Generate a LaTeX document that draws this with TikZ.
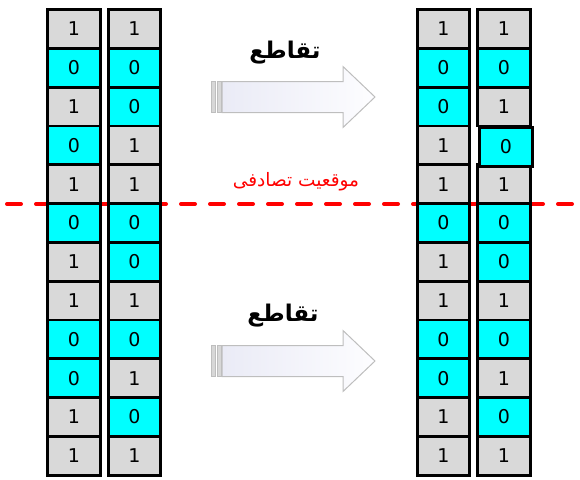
\documentclass[tikz,border=0pt]{standalone}
\usepackage{fontspec}
\setmainfont{DejaVu Sans}
\newfontfamily\arabicfont[Script=Arabic]{DejaVu Sans}
\TeXXeTstate=1
\definecolor{cellgray}{RGB}{217,217,217}
\definecolor{cellcyan}{RGB}{0,255,255}
\definecolor{arrowedge}{RGB}{190,190,190}
\definecolor{arrowfillA}{RGB}{253,253,255}
\definecolor{arrowfillB}{RGB}{234,235,246}
\definecolor{stripefill}{RGB}{215,215,215}
\begin{document}
\begin{tikzpicture}[x=1pt,y=-1pt,
  cell/.style={draw=black, line width=2.8pt, minimum height=38.8pt, inner sep=0pt, font=\fontsize{19}{19}\selectfont},
  c0/.style={cell, fill=cellcyan},
  c1/.style={cell, fill=cellgray},
  fatarrow/.style={draw=arrowedge, line width=1pt, left color=arrowfillB, right color=arrowfillA},
  stripe/.style={draw=arrowedge, line width=0.8pt, fill=stripefill},
  title/.style={font=\arabicfont\bfseries\fontsize{23}{23}\selectfont},
  randtxt/.style={font=\arabicfont\fontsize{18.5}{18.5}\selectfont, text=red}
]
\useasboundingbox (0,0) rectangle (580,479);
% random crossover position
\coordinate (dashL) at (7,204);
\coordinate (dashR) at (580,204);
\draw[red, line width=4pt, line cap=round, dash pattern=on 14pt off 15pt] (dashL) -- (dashR);
\node[randtxt] (pos) at (296,182) {\beginR موقعیت تصادفی\endR};

% columns
\foreach \v [count=\i] in {1,0,1,0,1,0,1,1,0,0,1,1}
  \node[c\v, minimum width=53pt] (a\i) at (74,{9.5+19.4+(\i-1)*38.8}) {\v};
\foreach \v [count=\i] in {1,0,0,1,1,0,0,1,0,1,0,1}
  \node[c\v, minimum width=52pt] (b\i) at (134.5,{9.5+19.4+(\i-1)*38.8}) {\v};
\foreach \v [count=\i] in {1,0,0,1,1,0,1,1,0,0,1,1}
  \node[c\v, minimum width=52pt] (c\i) at (443.5,{9.5+19.4+(\i-1)*38.8}) {\v};
\foreach \v/\i in {1/1,0/2,1/3,1/5,0/6,0/7,1/8,0/9,1/10,0/11,1/12}
  \node[c\v, minimum width=53pt] (d\i) at (504,{9.5+19.4+(\i-1)*38.8}) {\v};
\node[c0, minimum width=53pt] (d4) at (506,{11+19.4+3*38.8}) {0};

% arrows
\foreach \yc in {97,361} {
  \draw[fatarrow] (222,\yc-15.5) -- (343,\yc-15.5) -- (343,\yc-30.5) -- (375,\yc) -- (343,\yc+30.5) -- (343,\yc+15.5) -- (222,\yc+15.5) -- cycle;
  \draw[stripe] (211,\yc-15.5) rectangle (215.5,\yc+15.5);
  \draw[stripe] (217,\yc-15.5) rectangle (221.5,\yc+15.5);
}
\node[title] (t1) at (285,53) {\beginR تقاطع\endR};
\node[title] (t2) at (283,316) {\beginR تقاطع\endR};
\end{tikzpicture}
\end{document}
